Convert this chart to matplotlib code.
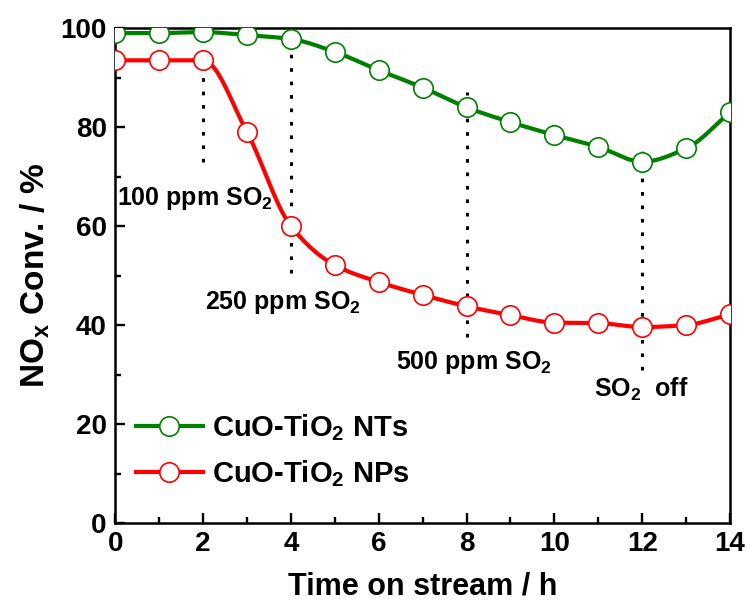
import numpy as np
import matplotlib
matplotlib.use('Agg')
import matplotlib.pyplot as plt
from matplotlib.ticker import MultipleLocator

plt.rcParams['font.family'] = ['Liberation Sans', 'DejaVu Sans']
plt.rcParams['font.weight'] = 'bold'
plt.rcParams['mathtext.fontset'] = 'custom'
plt.rcParams['mathtext.rm'] = 'Liberation Sans:bold'
plt.rcParams['mathtext.it'] = 'Liberation Sans:bold'
plt.rcParams['mathtext.bf'] = 'Liberation Sans:bold'
plt.rcParams['mathtext.default'] = 'rm'

# Time on stream (h)
hours = [0, 1, 2, 3, 4, 5, 6, 7, 8, 9, 10, 11, 12, 13, 14]

# NOx conversion (%)
conv_nts = [99.0, 99.0, 99.2, 98.6, 97.8, 95.2, 91.5, 88.0, 84.0, 81.0, 78.4, 76.0, 73.0, 75.7, 83.0]
conv_nps = [93.5, 93.5, 93.5, 79.0, 60.0, 52.1, 48.7, 46.1, 43.8, 42.0, 40.5, 40.4, 39.6, 40.0, 42.2]

# SO2 switching events: time, dotted line span, label
event_times = [2, 4, 8, 12]
event_spans = [(73, 100), (50.5, 100), (37.6, 87), (31, 76)]
event_labels = ['100 ppm SO$_2$', '250 ppm SO$_2$', '500 ppm SO$_2$', 'SO$_2$  off']
label_pos = [(0.05, 65.5), (2.05, 44.5), (6.4, 32.5), (10.9, 27)]


def pchip(x, y, n=400):
    # shape-preserving cubic through the points
    x = np.asarray(x, float)
    y = np.asarray(y, float)
    h = np.diff(x)
    delta = np.diff(y) / h
    d = np.zeros_like(y)
    for i in range(1, len(x) - 1):
        if delta[i - 1] * delta[i] > 0:
            w1 = 2 * h[i] + h[i - 1]
            w2 = h[i] + 2 * h[i - 1]
            d[i] = (w1 + w2) / (w1 / delta[i - 1] + w2 / delta[i])
    d[0] = delta[0]
    d[-1] = delta[-1]
    xs = np.linspace(x[0], x[-1], n)
    k = np.clip(np.searchsorted(x, xs) - 1, 0, len(x) - 2)
    t = (xs - x[k]) / h[k]
    h00 = 2 * t ** 3 - 3 * t ** 2 + 1
    h10 = t ** 3 - 2 * t ** 2 + t
    h01 = -2 * t ** 3 + 3 * t ** 2
    h11 = t ** 3 - t ** 2
    ys = h00 * y[k] + h10 * h[k] * d[k] + h01 * y[k + 1] + h11 * h[k] * d[k + 1]
    return xs, ys


fig = plt.figure(figsize=(7.48, 6.12), dpi=100)
ax = fig.add_axes([0.154, 0.1454, 0.822, 0.8086])

for t, (y0, y1) in zip(event_times, event_spans):
    ax.plot([t, t], [y0, y1], color='black', lw=2.2, ls=(0, (1.2, 3.2)), zorder=1)

series = [(conv_nts, '#008000', 'CuO-TiO$_2$ NTs'),
          (conv_nps, '#ff0000', 'CuO-TiO$_2$ NPs')]
handles = []
for vals, col, lab in series:
    xs, ys = pchip(hours, vals)
    ax.plot(xs, ys, color=col, lw=3, zorder=2)
    ax.plot(hours, vals, ls='none', marker='o', ms=14, mfc='white', mec=col, mew=1.2, zorder=3)
    h, = ax.plot([], [], color=col, lw=3, marker='o', ms=14, mfc='white', mec=col, mew=1.2, label=lab)
    handles.append(h)

for lab, (lx, ly) in zip(event_labels, label_pos):
    ax.text(lx, ly, lab, fontsize=18, fontweight='bold', va='center', ha='left')

ax.set_xlim(0, 14)
ax.set_ylim(0, 100)
ax.xaxis.set_major_locator(MultipleLocator(2))
ax.xaxis.set_minor_locator(MultipleLocator(1))
ax.yaxis.set_major_locator(MultipleLocator(20))
ax.yaxis.set_minor_locator(MultipleLocator(10))
ax.tick_params(which='both', direction='in', width=1.7, labelsize=20, top=False, right=False)
ax.tick_params(which='major', length=7, pad=6)
ax.tick_params(which='minor', length=4)
for sp in ax.spines.values():
    sp.set_linewidth(1.8)

ax.set_xlabel('Time on stream / h', fontsize=22, fontweight='bold', labelpad=10)
ax.set_ylabel('NO$_x$ Conv. / %', fontsize=24, fontweight='bold', labelpad=6)

ax.legend(handles=handles, loc='upper left', bbox_to_anchor=(0.005, 0.26), frameon=False,
          fontsize=21, handlelength=2.3, handletextpad=0.3, labelspacing=0.55, borderaxespad=0.2)

fig.savefig('out.png')
